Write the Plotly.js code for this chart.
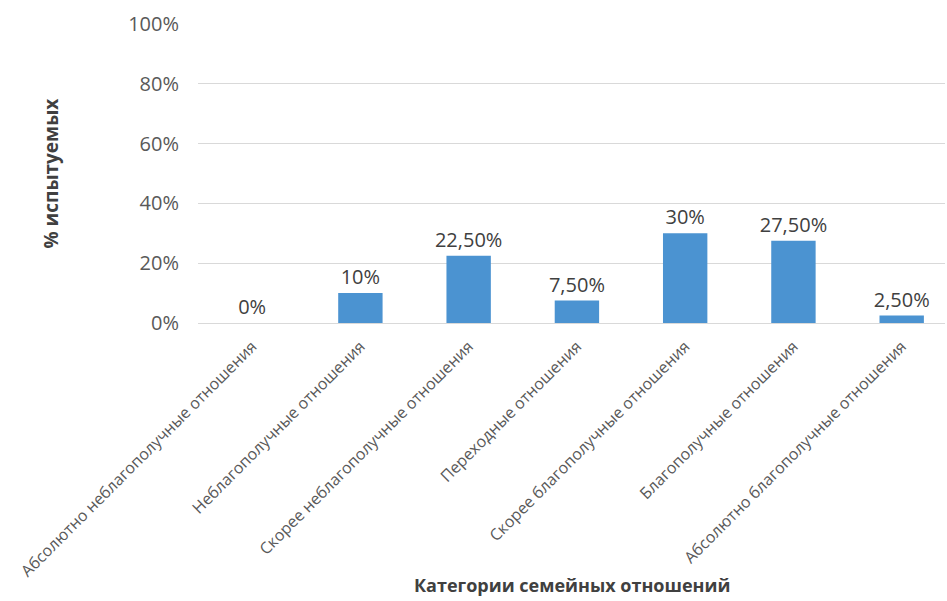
<!DOCTYPE html>
<html>
<head>
<meta charset="utf-8">
<script src="https://cdn.plot.ly/plotly-3.0.1.min.js"></script>
<style>html,body{margin:0;padding:0;background:#fff;}#chart{width:947px;height:601px;}</style>
</head>
<body>
<div id="chart"></div>
<script>
const categories = [
  "Абсолютно неблагополучные отношения",
  "Неблагополучные отношения",
  "Скорее неблагополучные отношения",
  "Переходные отношения",
  "Скорее благополучные отношения",
  "Благополучные отношения",
  "Абсолютно благополучные отношения"
];
const values = [0, 0.10, 0.225, 0.075, 0.30, 0.275, 0.025];
const valueLabels = ["0%", "10%", "22,50%", "7,50%", "30%", "27,50%", "2,50%"];
const yTickVals = [0, 0.2, 0.4, 0.6, 0.8, 1.0];
const yTickText = ["0%", "20%", "40%", "60%", "80%", "100%"];
const xTitle = "Категории семейных отношений";
const yTitle = "% испытуемых";

const trace = {
  type: "bar",
  x: categories.map((c, i) => i),
  y: values,
  text: valueLabels,
  textposition: "outside",
  constraintext: "none",
  cliponaxis: false,
  textfont: {family: "Open Sans, sans-serif", size: 20, color: "#404040"},
  marker: {color: "#4b93d1"},
  width: 0.41,
  hoverinfo: "skip"
};

const layout = {
  width: 947, height: 601,
  margin: {l: 198, r: 2, t: 24, b: 278},
  paper_bgcolor: "#fff", plot_bgcolor: "#fff",
  showlegend: false,
  font: {family: "Open Sans, sans-serif", color: "#595959"},
  xaxis: {
    range: [-0.5, 6.4],
    tickmode: "array",
    tickvals: categories.map((c, i) => i),
    ticktext: categories,
    tickangle: -45,
    tickfont: {size: 16, color: "#595959"},
    showgrid: false, zeroline: false, showline: false, ticks: "",
    ticklabelstandoff: 10,
    automargin: false
  },
  yaxis: {
    range: [0, 1],
    tickmode: "array",
    tickvals: yTickVals,
    ticktext: yTickText,
    tickfont: {size: 20, color: "#595959"},
    showgrid: true, gridcolor: "#d9d9d9", gridwidth: 1,
    zeroline: true, zerolinecolor: "#d9d9d9", zerolinewidth: 1,
    showline: false, ticks: "",
    ticklabelstandoff: 18,
    automargin: false
  },
  annotations: [
    {text: "<b>" + yTitle + "</b>", xref: "paper", yref: "paper", x: 0, y: 0.5,
     xshift: -148, textangle: -90, showarrow: false, xanchor: "center", yanchor: "middle",
     font: {family: "Open Sans, sans-serif", size: 19, color: "#404040"}},
    {text: "<b>" + xTitle + "</b>", xref: "paper", yref: "paper", x: 0.5, y: 0,
     yshift: -262, showarrow: false, xanchor: "center", yanchor: "middle",
     font: {family: "Open Sans, sans-serif", size: 18, color: "#404040"}}
  ]
};

Plotly.newPlot("chart", [trace], layout, {displayModeBar: false, staticPlot: true});
</script>
</body>
</html>
